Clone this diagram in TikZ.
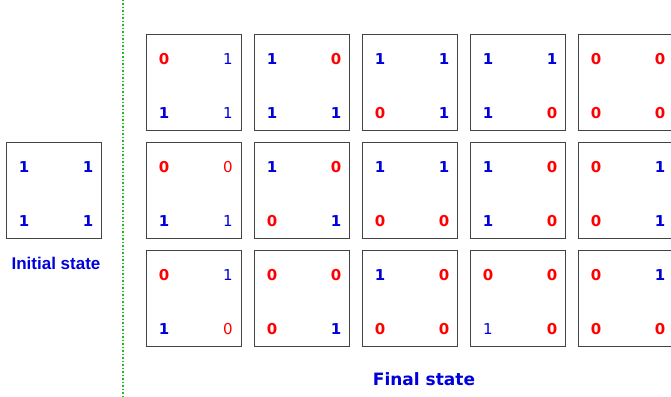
\documentclass[tikz,border=0pt]{standalone}
\usepackage{fontspec}
\newfontfamily\djv{DejaVu Sans}
\newfontfamily\lib{Liberation Sans}
\definecolor{zred}{HTML}{FF0000}
\definecolor{zblue}{HTML}{0000DD}
\definecolor{boxgray}{HTML}{444444}
\definecolor{sepgreen}{HTML}{22BB22}
\tikzset{
  cellbox/.style={draw=boxgray, line width=1.1pt, minimum width=95pt, minimum height=96pt,
    inner sep=0pt, anchor=north west, fill=white},
  dgt/.style={inner sep=0pt, anchor=center, font=\djv\bfseries\fontsize{15}{17}\selectfont},
  dgtthin/.style={inner sep=0pt, anchor=center, font=\djv\fontsize{15}{17}\selectfont},
  b0/.style={dgt, text=zred, node contents=0},
  b1/.style={dgt, text=zblue, node contents=1},
  t0/.style={dgtthin, text=zred, node contents=0},
  t1/.style={dgtthin, text=zblue, node contents=1},
  lbl/.style={text=zblue, inner sep=0pt, anchor=base},
  sepline/.style={draw=sepgreen, line width=1.1pt, dash pattern=on 1.5pt off 2pt}
}
\newcommand\stbox[7]{%
  \node[cellbox] (#1) at (#2,#3) {};
  \node (#1a) at ([shift={(18pt,-25pt)}]#1.north west) [#4];
  \node (#1b) at ([shift={(82pt,-25pt)}]#1.north west) [#5];
  \node (#1c) at ([shift={(18pt,-79pt)}]#1.north west) [#6];
  \node (#1d) at ([shift={(82pt,-79pt)}]#1.north west) [#7];
}
\begin{document}
\begin{tikzpicture}[x=1pt, y=-1pt]
\useasboundingbox (0,0) rectangle (671,396);
\clip (0,0) rectangle (671,396);
\fill[white] (0,0) rectangle (671,396);
% separator
\coordinate (gtop) at (123,0);
\coordinate (gbot) at (123,396);
\draw[sepline] (gtop) -- (gbot);
% initial state
\stbox{init}{6}{142}{b1}{b1}{b1}{b1}
\node[lbl, font=\lib\bfseries\fontsize{17}{20}\selectfont] (initlbl) at (56,269) {Initial state};
% row 1
\stbox{ra}{146}{34}{b0}{t1}{b1}{t1}
\stbox{rb}{254}{34}{b1}{b0}{b1}{b1}
\stbox{rc}{362}{34}{b1}{b1}{b0}{b1}
\stbox{rd}{470}{34}{b1}{b1}{b1}{b0}
\stbox{re}{578}{34}{b0}{b0}{b0}{b0}
% row 2
\stbox{sa}{146}{142}{b0}{t0}{b1}{t1}
\stbox{sb}{254}{142}{b1}{b0}{b0}{b1}
\stbox{sc}{362}{142}{b1}{b1}{b0}{b0}
\stbox{sd}{470}{142}{b1}{b0}{b1}{b0}
\stbox{se}{578}{142}{b0}{b1}{b0}{b1}
% row 3
\stbox{ua}{146}{250}{b0}{t1}{b1}{t0}
\stbox{ub}{254}{250}{b0}{b0}{b0}{b1}
\stbox{uc}{362}{250}{b1}{b0}{b0}{b0}
\stbox{ud}{470}{250}{b0}{b0}{t1}{b0}
\stbox{ue}{578}{250}{b0}{b1}{b0}{b0}
\node[lbl, font=\djv\bfseries\fontsize{17}{20}\selectfont] (finallbl) at (424,385) {Final state};
\end{tikzpicture}
\end{document}
